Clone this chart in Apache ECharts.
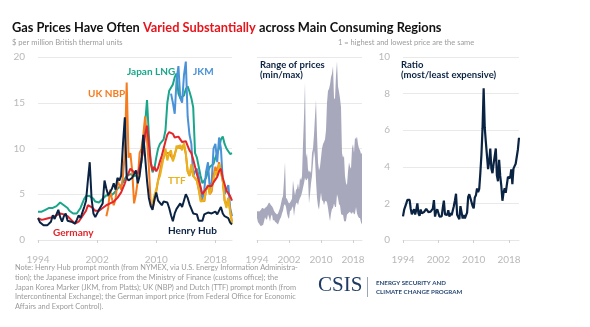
<!DOCTYPE html>
<html><head><meta charset="utf-8">
<script src="https://cdn.jsdelivr.net/npm/echarts@6/dist/echarts.min.js"></script>
<style>html,body{margin:0;padding:0;background:#fff}#c{width:590px;height:327px}</style>
</head><body><div id="c"></div>
<script>
// Quarterly observations, first quarter of 1994 through second quarter of 2020 ($/MMBtu)
const startYear = 1994;
const yearTicks = [1994, 2002, 2010, 2018];

const henryHub = [
  2.4, 1.95, 1.8, 1.6,   1.5, 1.6, 1.6, 2.0,   2.7, 2.3, 2.2, 3.3,   2.5, 2.0, 2.6, 2.9,
  2.1, 2.2, 2.0, 1.9,   1.8, 2.2, 2.7, 2.4,   2.5, 3.6, 4.3, 6.5,   8.5, 4.5, 2.9, 2.5,
  2.3, 3.3, 3.2, 4.0,   6.5, 5.6, 4.9, 4.8,   5.6, 6.2, 5.5, 6.8,   6.5, 7.0, 10.5, 13.4,
  6.8, 6.5, 6.6, 6.8,   7.2, 7.6, 6.2, 7.0,   8.7, 11.5, 9.0, 6.5,  4.6, 3.7, 3.3, 4.4,
  5.2, 4.3, 4.3, 3.8,   4.2, 4.3, 4.1, 3.5,   2.7, 2.05, 2.9, 3.4,  3.5, 4.0, 3.6, 3.6,
  5.0, 4.6, 3.9, 3.8,   2.9, 2.7, 2.8, 2.1,   2.0, 2.1, 2.8, 2.9,   3.0, 3.1, 2.9, 2.9,
  3.1, 2.8, 2.9, 3.6,   2.9, 2.6, 2.4, 2.4,   1.9, 1.7
];
const japanLNG = [
  3.1, 3.2, 3.1, 3.2,   3.3, 3.5, 3.5, 3.4,   3.5, 3.6, 3.7, 3.9,   4.1, 4.0, 3.8, 3.7,
  3.5, 3.2, 3.0, 2.9,   2.8, 2.9, 3.2, 3.5,   4.0, 4.5, 4.8, 5.0,   4.8, 4.6, 4.5, 4.2,
  4.0, 4.1, 4.3, 4.5,   4.7, 4.9, 4.7, 4.8,   5.0, 5.1, 5.3, 5.6,   5.8, 6.0, 6.3, 6.7,
  7.0, 7.0, 7.2, 7.3,   7.0, 6.9, 7.1, 7.6,   8.5, 10.3, 12.8, 15.3, 11.5, 8.5, 7.4, 7.8,
  9.0, 10.0, 10.5, 10.7, 11.0, 12.0, 15.0, 16.3, 16.5, 17.0, 17.8, 18.2, 16.0, 15.5, 15.4, 15.8,
  16.5, 16.8, 16.2, 15.5, 14.5, 9.5, 9.0, 9.2,  7.0, 6.2, 6.0, 6.8,   7.5, 8.0, 7.8, 8.3,
  9.0, 9.5, 10.0, 11.0, 11.3, 10.5, 10.0, 9.8,  9.4, 9.5
];
const jkm = [
  null, null, null, null, null, null, null, null, null, null, null, null, null, null, null, null,
  null, null, null, null, null, null, null, null, null, null, null, null, null, null, null, null,
  null, null, null, null, null, null, null, null, null, null, null, null, null, null, null, null,
  null, null, null, null, null, null, null, null, null, null, null, null, null, null, null, null,
  null, null, null, null, null, null, null, null, 16.0, 15.0, 13.8, 17.5, 19.0, 15.5, 15.0, 18.0,
  19.5, 13.5, 11.5, 10.5, 7.0, 7.5, 7.8, 7.0,  5.5, 4.5, 5.5, 7.5,   8.5, 5.5, 6.3, 10.0,
  10.5, 8.5, 11.2, 10.0, 6.5, 5.0, 5.0, 6.0,  3.5, 2.6
];
const ukNBP = [
  null, null, null, null, null, null, null, null, null, null, null, null, null, null, null, null,
  null, null, null, null, null, null, null, null, null, null, null, null, null, null, null, null,
  null, null, null, null, null, 2.6, 3.5, 5.5,  4.5, 3.8, 4.5, 6.5,   6.0, 5.5, 7.0, 9.5,
  17.2, 9.0, 9.5, 7.5,  4.0, 5.0, 6.5, 9.5,   10.0, 11.5, 13.5, 11.0, 8.0, 4.0, 3.5, 4.3,
  5.3, 6.5, 7.5, 8.5,   9.0, 9.5, 9.3, 9.5,   9.5, 8.8, 9.0, 10.0,  10.3, 10.0, 9.8, 10.4,
  9.4, 7.5, 7.0, 8.0,   7.0, 7.0, 6.5, 5.5,   4.5, 4.3, 4.2, 5.5,   6.0, 5.0, 5.3, 7.0,
  8.0, 7.5, 8.5, 8.6,   6.5, 4.3, 3.8, 4.6,   3.2, 2.0
];
const ttf = [
  null, null, null, null, null, null, null, null, null, null, null, null, null, null, null, null,
  null, null, null, null, null, null, null, null, null, null, null, null, null, null, null, null,
  null, null, null, null, null, null, null, null, null, null, null, null, null, null, null, null,
  null, null, null, null, null, null, null, null, null, null, null, null, null, null, 4.0, 4.9,
  5.5, 6.5, 7.0, 8.0,   9.0, 10.0, 8.7, 9.5,  9.8, 8.6, 9.2, 10.3,  10.0, 10.4, 9.8, 10.6,
  9.5, 7.5, 7.0, 8.3,   7.0, 7.0, 6.5, 5.5,   4.2, 4.2, 4.3, 5.5,   6.0, 5.0, 5.2, 6.5,
  7.5, 7.0, 8.3, 8.5,   6.5, 4.3, 3.5, 4.6,   3.0, 1.8
];
const germany = [
  2.4, 2.3, 2.2, 2.3,   2.3, 2.4, 2.4, 2.5,   2.5, 2.6, 2.7, 2.8,   2.9, 2.9, 2.8, 2.8,
  2.6, 2.4, 2.2, 2.0,   1.8, 1.7, 2.0, 2.3,   2.6, 2.9, 3.2, 3.8,   3.9, 3.6, 3.4, 3.2,
  3.0, 3.2, 3.4, 3.5,   3.7, 3.8, 3.8, 4.0,   4.1, 4.2, 4.3, 4.6,   4.8, 5.2, 5.7, 6.2,
  6.8, 7.3, 7.8, 7.7,   7.4, 7.2, 7.3, 8.0,   8.8, 9.8, 11.5, 12.5, 10.5, 8.5, 7.6, 8.0,
  7.5, 7.9, 8.6, 9.2,   10.0, 10.8, 11.5, 11.8, 11.9, 11.6, 11.2, 11.4, 11.3, 11.0, 10.7, 10.8,
  10.8, 10.3, 9.8, 9.5, 8.8, 8.0, 7.2, 6.5,   5.8, 5.0, 5.3, 5.6,   5.9, 5.7, 5.9, 6.3,
  6.6, 6.9, 7.5, 7.8,   6.8, 6.1, 5.4, 5.6,   4.8, 4.3
];

const seriesNames = ['Japan LNG', 'JKM', 'UK NBP', 'TTF', 'Germany', 'Henry Hub'];
const seriesValues = [japanLNG, jkm, ukNBP, ttf, germany, henryHub];
const seriesColors = ['#1aa68a', '#4a92d8', '#f57c1f', '#e8b21c', '#e3262b', '#0b2343'];

const quarters = henryHub.map((_, i) => startYear + i * 0.25);

// derived: min, max, ratio across available benchmarks
const lows = [], highs = [];
quarters.forEach((t, i) => {
  const vals = seriesValues.map(a => a[i]).filter(v => v != null);
  lows.push(Math.min(...vals));
  highs.push(Math.max(...vals));
});
const ratio = highs.map((h, i) => h / lows[i]);

const pair = arr => quarters.map((t, i) => [t, arr[i]]);

const chart = echarts.init(document.getElementById('c'), null, {renderer: 'canvas'});
const FONT = 'Lato';
const tickColor = '#b9b9b9';

function xAx(gi) {
  return {
    type: 'value', gridIndex: gi, min: 1994, max: 2020.25, position: 'bottom',
    axisLine: {show: true, onZero: false, lineStyle: {color: '#e6e6e6', width: 1}},
    axisTick: {show: true, customValues: yearTicks, length: 3, lineStyle: {color: '#cfcfcf'}},
    axisLabel: {show: true, customValues: yearTicks, color: tickColor, fontSize: 10, fontFamily: FONT,
      margin: 10, verticalAlign: 'top', padding: [5, 0, 0, 0],
      formatter: v => String(Math.round(v))},
    splitLine: {show: false}
  };
}
function yAx(gi, max, interval, showLabel) {
  return {
    type: 'value', gridIndex: gi, min: 0, max: max, interval: interval,
    axisLine: {show: false}, axisTick: {show: false},
    axisLabel: {show: showLabel, color: tickColor, fontSize: 10, fontFamily: FONT, margin: 13},
    splitLine: {lineStyle: {color: '#e9e9e9', width: 1}}
  };
}

const series = seriesNames.map((n, k) => ({
  name: n, type: 'line', xAxisIndex: 0, yAxisIndex: 0, data: pair(seriesValues[k]),
  showSymbol: false, symbol: 'none', connectNulls: false,
  lineStyle: {color: seriesColors[k], width: 2}, itemStyle: {color: seriesColors[k]},
  z: 2 + k, animation: false
}));
series.push({
  name: 'range', type: 'custom', xAxisIndex: 1, yAxisIndex: 1,
  data: quarters.map((t, i) => [t, lows[i], highs[i]]),
  renderItem: function (params, api) {
    if (params.dataIndex !== 0) return;
    const pts = [];
    for (let i = 0; i < quarters.length; i++) pts.push(api.coord([quarters[i], highs[i]]));
    for (let i = quarters.length - 1; i >= 0; i--) pts.push(api.coord([quarters[i], lows[i]]));
    return {type: 'polygon', shape: {points: pts}, style: {fill: '#a8a8bc'}};
  },
  animation: false
});
series.push({
  name: 'ratio', type: 'line', xAxisIndex: 2, yAxisIndex: 2, data: pair(ratio),
  symbol: 'none', lineStyle: {color: '#0b2343', width: 2.2}, animation: false
});

function label(text, x, y, color) {
  return {type: 'text', left: x, top: y, style: {text: text, fill: color, font: 'bold 10px ' + FONT}};
}
const noteLines = [
  'Note: Henry Hub prompt month (from NYMEX, via U.S. Energy Information Administra-',
  'tion); the Japanese import price from the Ministry of Finance (customs office); the',
  'Japan Korea Marker (JKM, from Platts); UK (NBP) and Dutch (TTF) prompt month (from',
  'Intercontinental Exchange); the German import price (from Federal Office for Economic',
  'Affairs and Export Control).'
];

chart.setOption({
  animation: false,
  textStyle: {fontFamily: FONT},
  grid: [
    {left: 38, top: 57, width: 194, height: 183},
    {left: 257, top: 57, width: 105, height: 183},
    {left: 403, top: 57, width: 116, height: 183}
  ],
  xAxis: [xAx(0), xAx(1), xAx(2)],
  yAxis: [yAx(0, 20, 5, true), yAx(1, 20, 5, false), yAx(2, 10, 2, true)],
  series: series,
  graphic: [
    {type: 'text', left: 12, top: 21, style: {
      text: '{a|Gas Prices Have Often }{r|Varied Substantially}{a| across Main Consuming Regions}',
      rich: {
        a: {fill: '#111111', font: 'bold 12.8px ' + FONT},
        r: {fill: '#e8141b', font: 'bold 12.8px ' + FONT}
      }}},
    {type: 'text', left: 12, top: 39, style: {text: '$ per million British thermal units', fill: '#9c9c9c', font: '7.6px ' + FONT}},
    {type: 'text', left: 338, top: 39, style: {text: '1 = highest and lowest price are the same', fill: '#9c9c9c', font: '7.5px ' + FONT}},
    label('Japan LNG', 127, 67, seriesColors[0]),
    label('JKM', 193, 67, seriesColors[1]),
    label('UK NBP', 88, 89, seriesColors[2]),
    label('TTF', 168, 176, seriesColors[3]),
    label('Germany', 53, 228, seriesColors[4]),
    label('Henry Hub', 168, 226, seriesColors[5]),
    {type: 'text', left: 260, top: 60, style: {text: 'Range of prices\n(min/max)', fill: '#0b2343', font: 'bold 9.5px ' + FONT, lineHeight: 10}},
    {type: 'text', left: 401, top: 60, style: {text: 'Ratio\n(most/least expensive)', fill: '#0b2343', font: 'bold 9.5px ' + FONT, lineHeight: 10}},
    {type: 'text', left: 15, top: 263, style: {text: noteLines.join('\n'), fill: '#9a9a9a', font: '7.4px ' + FONT, lineHeight: 9.7}},
    {type: 'text', left: 318, top: 275, style: {text: 'CSIS', fill: '#1d3b63', font: '21px "Liberation Serif"'}},
    {type: 'rect', left: 367, top: 277, shape: {width: 1, height: 20}, style: {fill: '#9aa5b5'}},
    {type: 'text', left: 376, top: 279, style: {text: 'ENERGY SECURITY AND\nCLIMATE CHANGE PROGRAM', fill: '#2a4a75', font: 'bold 6.2px ' + FONT, lineHeight: 9}}
  ]
});
</script></body></html>
